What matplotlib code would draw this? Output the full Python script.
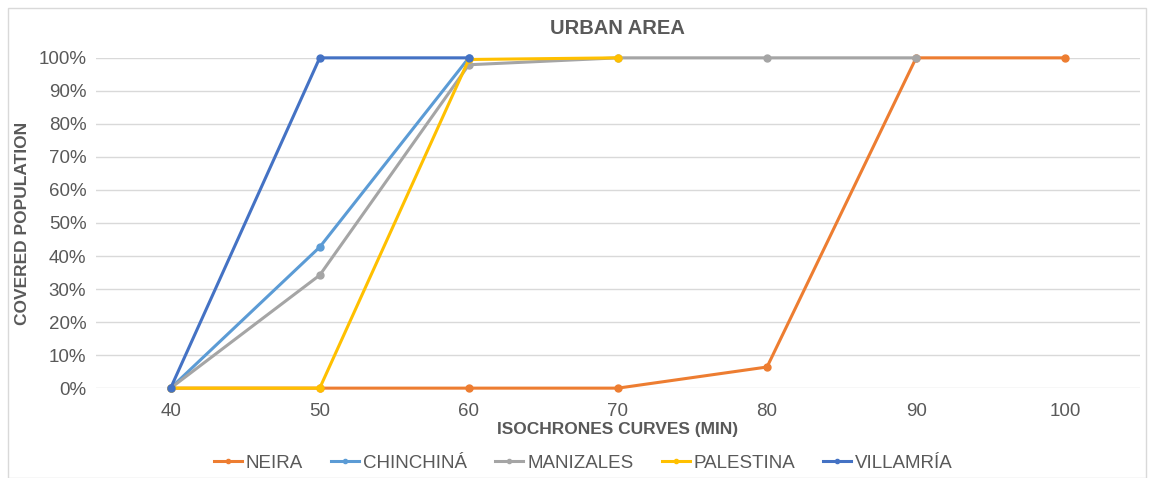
import numpy as np
import matplotlib.pyplot as plt
from matplotlib.patches import Rectangle

plt.rcParams['font.family'] = ['Liberation Sans', 'DejaVu Sans']

minutes = [40, 50, 60, 70, 80, 90, 100]
neira     = [0, 0, 0, 0, 6.4, 100, 100]
chinchina = [0, 42.7, 100]
manizales = [0, 34.2, 97.9, 100, 100, 100]
palestina = [0, 0, 99.5, 100]
villamria = [0, 100, 100]

series = [
    ("NEIRA",     neira,     "#ED7D31"),
    ("CHINCHINÁ", chinchina, "#5B9BD5"),
    ("MANIZALES", manizales, "#A5A5A5"),
    ("PALESTINA", palestina, "#FFC000"),
    ("VILLAMRÍA", villamria, "#4472C4"),
]

txt = "#595959"
fig = plt.figure(figsize=(11.49, 4.78), dpi=100)
fig.patches.append(Rectangle((0.007, 0.0), 0.99, 0.983, transform=fig.transFigure,
                             fill=False, edgecolor="#D9D9D9", lw=1))
ax = fig.add_axes([0.0836, 0.188, 0.9084, 0.691])

xs = np.arange(len(minutes))
for name, vals, col in series:
    ax.plot(xs[:len(vals)], vals, color=col, lw=2.2, marker='o', ms=5,
            label=name, clip_on=False)

ax.set_xlim(-0.5, len(minutes) - 0.5)
ax.set_ylim(0, 100)
ax.set_yticks(np.arange(0, 101, 10))
ax.set_yticklabels([f"{v}%" for v in range(0, 101, 10)])
ax.set_xticks(xs)
ax.set_xticklabels([str(m) for m in minutes])
ax.grid(axis='y', color="#D9D9D9", lw=1)
ax.set_axisbelow(True)
for s in ax.spines.values():
    s.set_visible(False)
ax.tick_params(length=0, labelsize=13.5, colors=txt, pad=7)
ax.tick_params(axis='x', pad=11)

ax.set_title("URBAN AREA", fontsize=14.5, fontweight='bold', color=txt, pad=17)
ax.set_xlabel("ISOCHRONES CURVES (MIN)", fontsize=12.5, fontweight='bold', color=txt, labelpad=1)
ax.set_ylabel("COVERED POPULATION", fontsize=12.5, fontweight='bold', color=txt, labelpad=6)

ax.legend(loc='center', bbox_to_anchor=(0.467, -0.227), ncol=5, frameon=False,
          fontsize=13.5, labelcolor=txt, handlelength=1.5, handletextpad=0.2,
          columnspacing=1.5, markerscale=0.6)

fig.savefig("out.png", dpi=100)
